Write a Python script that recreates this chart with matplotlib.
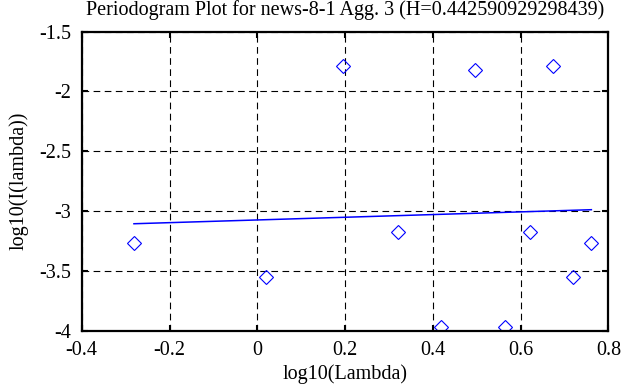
import numpy as np
import matplotlib
matplotlib.use('Agg')
import matplotlib.pyplot as plt
from matplotlib.ticker import FuncFormatter

# log10(Lambda) / log10(I(lambda))
log_lambda = [-0.281, 0.020, 0.196, 0.321, 0.419, 0.497, 0.564, 0.622, 0.673, 0.719, 0.761]
log_I = [-3.264, -3.550, -1.790, -3.172, -3.969, -1.820, -3.969, -3.171, -1.790, -3.548, -3.264]
H = 0.442590929298439

plt.rcParams['font.family'] = ['Liberation Serif', 'DejaVu Serif']
plt.rcParams['axes.unicode_minus'] = False
FS = 14.5

fig = plt.figure(figsize=(6.42, 3.87), dpi=100)
ax = fig.add_axes([0.1273, 0.1455, 0.8205, 0.7726])

x = np.array(log_lambda)
y = np.array(log_I)
# least squares line through the periodogram points
slope, icpt = np.polyfit(x, y, 1)
xs = np.array([x.min(), x.max()])

ax.plot(x, y, linestyle='none', marker='D', markersize=7,
        markerfacecolor='none', markeredgecolor='#0000ff', markeredgewidth=0.8)
ax.plot(xs, icpt + slope * xs, color='#0000ff', linewidth=1.1)

ax.set_xlim(-0.4, 0.8)
ax.set_ylim(-4, -1.5)
ax.set_xticks([-0.4, -0.2, 0, 0.2, 0.4, 0.6, 0.8])
ax.set_yticks([-4, -3.5, -3, -2.5, -2, -1.5])
fmt = FuncFormatter(lambda v, p: '%g' % round(v, 3))
ax.xaxis.set_major_formatter(fmt)
ax.yaxis.set_major_formatter(fmt)

ax.grid(True, color='black', linestyle=(0, (6, 4)), linewidth=0.8)
ax.tick_params(direction='in', length=4, width=1.5, top=True, right=True,
               labelsize=FS, colors='black')
ax.tick_params(axis='y', pad=7.5)
ax.tick_params(axis='x', pad=7.5)
for s in ax.spines.values():
    s.set_linewidth(1.6)

ax.set_xlabel('log10(Lambda)', fontsize=FS, labelpad=3)
ax.set_ylabel('log10(I(lambda))', fontsize=FS, labelpad=8)
ax.set_title('Periodogram Plot for news-8-1 Agg. 3 (H=' + repr(H) + ')', fontsize=FS, pad=12)

fig.savefig('out.png', dpi=100)
